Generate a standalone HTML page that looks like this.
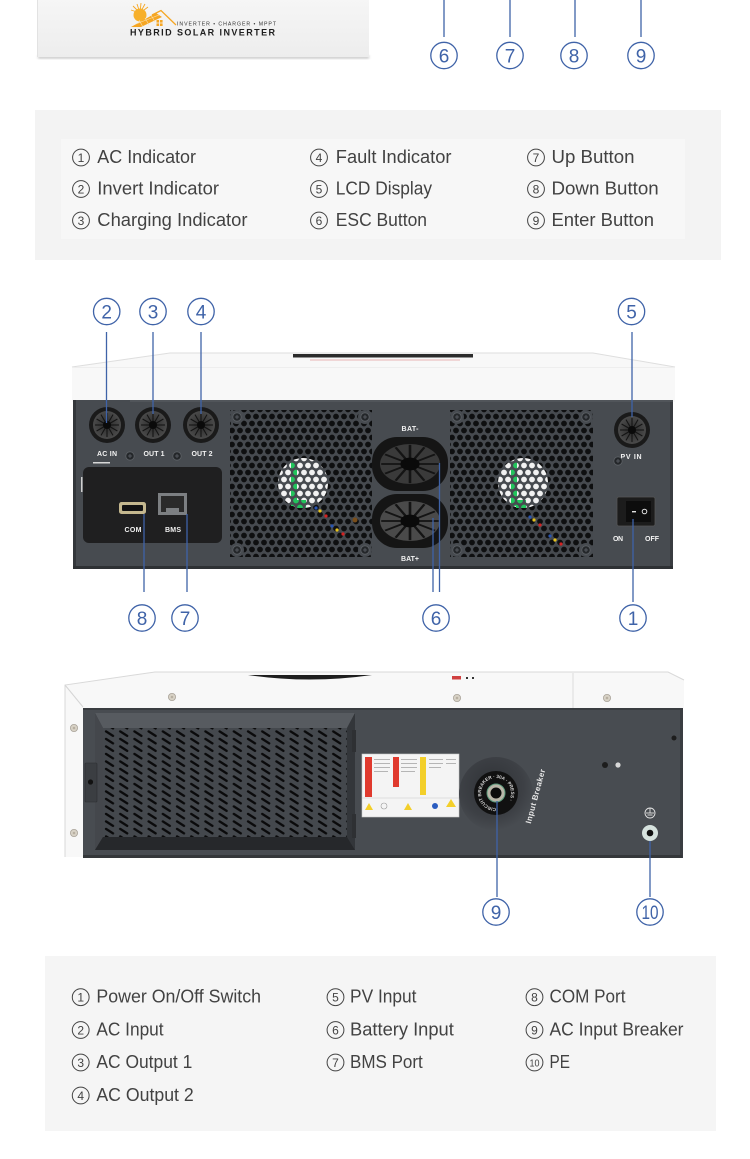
<!DOCTYPE html>
<html><head><meta charset="utf-8"><style>
html,body{margin:0;padding:0;background:#fff;}
body{width:750px;height:1159px;overflow:hidden;}
svg{display:block;}
.lg{font-family:"Liberation Sans","Noto Sans CJK SC",sans-serif;font-size:18px;fill:#424242;}
.lc{font-family:"Liberation Sans",sans-serif;font-size:12px;fill:#424242;}
.cn{font-family:"Liberation Sans",sans-serif;font-size:19px;fill:#3f63a8;}
.sm{font-family:"Liberation Sans",sans-serif;font-size:7px;font-weight:bold;fill:#f2f2f2;}
</style></head><body>
<svg width="750" height="1159" viewBox="0 0 750 1159" xmlns="http://www.w3.org/2000/svg">
<defs>
  <pattern id="hex" patternUnits="userSpaceOnUse" width="8" height="14">
    <rect width="8" height="14" fill="#464a4f"/>
    <circle cx="4" cy="3.5" r="2.9" fill="#0e0f10"/>
    <circle cx="0" cy="10.5" r="2.9" fill="#0e0f10"/>
    <circle cx="8" cy="10.5" r="2.9" fill="#0e0f10"/>
  </pattern>
  <pattern id="hexW" patternUnits="userSpaceOnUse" width="8" height="14">
    <rect width="8" height="14" fill="#464a4f"/>
    <circle cx="4" cy="3.5" r="2.9" fill="#f2f2f2"/>
    <circle cx="0" cy="10.5" r="2.9" fill="#f2f2f2"/>
    <circle cx="8" cy="10.5" r="2.9" fill="#f2f2f2"/>
  </pattern>
  <pattern id="hexG" patternUnits="userSpaceOnUse" width="8" height="14">
    <rect width="8" height="14" fill="#464a4f"/>
    <circle cx="4" cy="3.5" r="2.9" fill="#22c45c"/>
    <circle cx="0" cy="10.5" r="2.9" fill="#22c45c"/>
    <circle cx="8" cy="10.5" r="2.9" fill="#22c45c"/>
  </pattern>
  <pattern id="slots" patternUnits="userSpaceOnUse" x="104" y="730" width="14.2" height="7.5">
    <rect width="14.2" height="7.5" fill="#44484d"/>
    <line x1="2" y1="1.4" x2="9" y2="5.9" stroke="#0a0a0b" stroke-width="2.3" stroke-linecap="round"/>
  </pattern>
  <radialGradient id="dish" cx="0.45" cy="0.4" r="0.6">
    <stop offset="0" stop-color="#2f3236"/>
    <stop offset="0.7" stop-color="#3d4045"/>
    <stop offset="1" stop-color="#484c51"/>
  </radialGradient>
  <radialGradient id="conn" cx="0.5" cy="0.5" r="0.5">
    <stop offset="0" stop-color="#2a2a2a"/>
    <stop offset="1" stop-color="#4a4a4a"/>
  </radialGradient>
  <linearGradient id="card" x1="0" y1="0" x2="0" y2="1">
    <stop offset="0" stop-color="#f6f6f6"/>
    <stop offset="1" stop-color="#ededed"/>
  </linearGradient>
  <g id="spokes">
    <g stroke="#141414" stroke-width="1.1">
      <line x1="0" y1="0" x2="12" y2="0"/><line x1="0" y1="0" x2="10.4" y2="6"/><line x1="0" y1="0" x2="6" y2="10.4"/>
      <line x1="0" y1="0" x2="0" y2="12"/><line x1="0" y1="0" x2="-6" y2="10.4"/><line x1="0" y1="0" x2="-10.4" y2="6"/>
      <line x1="0" y1="0" x2="-12" y2="0"/><line x1="0" y1="0" x2="-10.4" y2="-6"/><line x1="0" y1="0" x2="-6" y2="-10.4"/>
      <line x1="0" y1="0" x2="0" y2="-12"/><line x1="0" y1="0" x2="6" y2="-10.4"/><line x1="0" y1="0" x2="10.4" y2="-6"/>
    </g>
    <circle r="4" fill="#0a0a0a"/>
  </g>
  <g id="connector">
    <circle r="18" fill="#1a1a1a"/>
    <circle r="14" fill="url(#conn)"/>
    <use href="#spokes"/>
  </g>
  <g id="screw">
    <circle r="4.2" fill="#24272a"/>
    <circle r="4.2" fill="none" stroke="#5c6065" stroke-width="0.8"/>
    <path d="M-2,0H2M0,-2V2" stroke="#60646a" stroke-width="0.8"/>
  </g>
  <g id="wscrew">
    <circle r="3.6" fill="#d8d2c6"/>
    <circle r="3.6" fill="none" stroke="#aaa49a" stroke-width="0.8"/>
    <circle r="1.3" fill="#b8b0a2"/>
  </g>
  <filter id="blur1"><feGaussianBlur stdDeviation="1.2"/></filter>
</defs>

<!-- ============ TOP CARD ============ -->
<rect x="38" y="55" width="331" height="4" fill="#cfcfcf" filter="url(#blur1)"/>
<rect x="37" y="-2" width="332" height="59" fill="url(#card)"/>
<line x1="37.5" y1="0" x2="37.5" y2="57" stroke="#e2e2e2"/>
<!-- logo -->
<g>
  <g stroke="#f5a623" stroke-width="0.9">
    <line x1="140" y1="13" x2="133" y2="6"/><line x1="140" y1="13" x2="137" y2="4"/>
    <line x1="140" y1="13" x2="141" y2="3"/><line x1="140" y1="13" x2="145" y2="4"/>
    <line x1="140" y1="13" x2="148" y2="7"/><line x1="140" y1="13" x2="131" y2="10"/>
  </g>
  <circle cx="140" cy="15" r="6.5" fill="#f7b02a"/>
  <polygon points="131,27 156,13 162,17 141,27" fill="#f5a623"/>
  <g stroke="#fbe2b0" stroke-width="0.6">
    <line x1="136" y1="24" x2="159" y2="15"/><line x1="139" y1="20" x2="143" y2="27"/>
    <line x1="145" y1="18" x2="149" y2="25"/><line x1="151" y1="15" x2="155" y2="22"/>
  </g>
  <polyline points="152,15 161,10.5 176,25" fill="none" stroke="#f5a623" stroke-width="1.3"/>
  <rect x="156.5" y="20" width="2.6" height="2.6" fill="#f5a623"/><rect x="160" y="20" width="2.6" height="2.6" fill="#f5a623"/>
  <rect x="156.5" y="23.4" width="2.6" height="2.6" fill="#f5a623"/><rect x="160" y="23.4" width="2.6" height="2.6" fill="#f5a623"/>
</g>
<text x="177" y="25.7" font-family="Liberation Sans,sans-serif" font-size="5.2" fill="#333" textLength="99" lengthAdjust="spacing">INVERTER • CHARGER • MPPT</text>
<text x="130" y="35.7" font-family="Liberation Sans,sans-serif" font-size="9" font-weight="bold" fill="#1e1e1e" textLength="145" lengthAdjust="spacing">HYBRID SOLAR INVERTER</text>

<!-- top callouts 6 7 8 9 -->
<g stroke="#3f63a8" stroke-width="1.3" fill="none">
  <line x1="444" y1="0" x2="444" y2="37"/><line x1="510" y1="0" x2="510" y2="37"/>
  <line x1="575" y1="0" x2="575" y2="37"/><line x1="641" y1="0" x2="641" y2="37"/>
  <circle cx="444" cy="55.5" r="13.2"/><circle cx="510" cy="55.5" r="13.2"/>
  <circle cx="574" cy="55.5" r="13.2"/><circle cx="641" cy="55.5" r="13.2"/>
</g>
<g class="cn" text-anchor="middle">
  <text x="444" y="62.3">6</text><text x="510" y="62.3">7</text><text x="574" y="62.3">8</text><text x="641" y="62.3">9</text>
</g>

<!-- ============ LEGEND 1 ============ -->
<rect x="35" y="110" width="686" height="150" fill="#f3f3f3"/>
<rect x="61" y="139" width="624" height="100" fill="#f7f7f7"/>
<g fill="none" stroke="#444" stroke-width="1">
  <circle cx="81" cy="157.5" r="8.4"/><circle cx="81" cy="189" r="8.4"/><circle cx="81" cy="220.5" r="8.4"/>
  <circle cx="319" cy="157.5" r="8.4"/><circle cx="319" cy="189" r="8.4"/><circle cx="319" cy="220.5" r="8.4"/>
  <circle cx="536" cy="157.5" r="8.4"/><circle cx="536" cy="189" r="8.4"/><circle cx="536" cy="220.5" r="8.4"/>
</g>
<g class="lc" text-anchor="middle">
  <text x="81" y="161.8">1</text><text x="81" y="193.3">2</text><text x="81" y="224.8">3</text>
  <text x="319" y="161.8">4</text><text x="319" y="193.3">5</text><text x="319" y="224.8">6</text>
  <text x="536" y="161.8">7</text><text x="536" y="193.3">8</text><text x="536" y="224.8">9</text>
</g>
<g class="lg">
  <text x="97.3" y="163" textLength="98.7" lengthAdjust="spacingAndGlyphs">AC Indicator</text>
  <text x="97.3" y="194.5" textLength="121.7" lengthAdjust="spacingAndGlyphs">Invert Indicator</text>
  <text x="97.3" y="226" textLength="150.2" lengthAdjust="spacingAndGlyphs">Charging Indicator</text>
  <text x="335.8" y="163" textLength="115.7" lengthAdjust="spacingAndGlyphs">Fault Indicator</text>
  <text x="335.8" y="194.5" textLength="96.2" lengthAdjust="spacingAndGlyphs">LCD Display</text>
  <text x="335.8" y="226" textLength="91.2" lengthAdjust="spacingAndGlyphs">ESC Button</text>
  <text x="551.5" y="163" textLength="83" lengthAdjust="spacingAndGlyphs">Up Button</text>
  <text x="551.5" y="194.5" textLength="107.2" lengthAdjust="spacingAndGlyphs">Down Button</text>
  <text x="551.5" y="226" textLength="102.5" lengthAdjust="spacingAndGlyphs">Enter Button</text>
</g>

<!-- ============ DEVICE 1 (rear panel) ============ -->
<polygon points="72,367 170,353 593,353 675,367 675,402 72,402" fill="#f8f8f8"/>
<polyline points="72,367 170,353 593,353 675,367" fill="none" stroke="#dedede" stroke-width="1"/>
<line x1="72" y1="367.5" x2="675" y2="367.5" stroke="#eeeeee"/>
<rect x="293" y="354" width="180" height="3.5" fill="#2c2c2c"/>
<rect x="310" y="359" width="150" height="2" fill="#f0d6d6"/>
<rect x="73" y="400" width="600" height="169" fill="#474b50"/>
<rect x="73" y="400" width="3" height="169" fill="#34373b"/>
<rect x="670" y="400" width="3" height="169" fill="#393c40"/>
<rect x="73" y="566" width="600" height="3" fill="#2e3134"/>
<line x1="130" y1="401" x2="673" y2="401" stroke="#5b5f64" stroke-width="1"/>

<use href="#connector" x="107" y="425"/>
<use href="#connector" x="153" y="425"/>
<use href="#connector" x="201" y="425"/>
<g class="sm" text-anchor="middle">
  <text x="107" y="456" textLength="20">AC IN</text>
  <text x="154" y="456" textLength="21">OUT 1</text>
  <text x="202" y="456" textLength="21">OUT 2</text>
</g>
<use href="#screw" x="130" y="456"/>
<use href="#screw" x="177" y="456"/>

<rect x="83" y="467" width="139" height="76" rx="6" fill="#1f1f20"/>
<rect x="93" y="462" width="17" height="1.5" fill="#d8d8d8"/>
<rect x="81" y="477" width="1.5" height="15" fill="#cfcfcf"/>
<rect x="119" y="502" width="27" height="12" rx="2.5" fill="#c4b78e"/>
<rect x="122" y="505" width="21" height="6" rx="1" fill="#121212"/>
<rect x="158" y="493" width="29" height="22" fill="#7c7f82"/>
<rect x="161" y="496" width="23" height="16" fill="#2a2a2a"/>
<rect x="166" y="508" width="13" height="4" fill="#7c7f82"/>
<g class="sm" text-anchor="middle">
  <text x="133" y="532" textLength="17">COM</text>
  <text x="173" y="532" textLength="16">BMS</text>
</g>

<rect x="230" y="410" width="142" height="147" fill="url(#hex)"/>
<circle cx="303" cy="483" r="25" fill="url(#hexW)"/>
<rect x="291" y="462" width="6" height="44" fill="url(#hexG)"/>
<rect x="296" y="500" width="10" height="8" fill="url(#hexG)"/>
<g>
  <circle cx="316" cy="508" r="1.6" fill="#2a55b0"/><circle cx="320" cy="511" r="1.6" fill="#e6c21c"/><circle cx="326" cy="516" r="1.6" fill="#d42222"/>
  <circle cx="332" cy="526" r="1.6" fill="#2a55b0"/><circle cx="337" cy="530" r="1.6" fill="#e6c21c"/><circle cx="343" cy="534" r="1.6" fill="#d42222"/>
  <circle cx="355" cy="520" r="2.5" fill="#7a4e1a"/>
</g>
<g fill="#474b50"><circle cx="237" cy="417" r="7"/><circle cx="365" cy="417" r="7"/><circle cx="237" cy="550" r="7"/><circle cx="365" cy="550" r="7"/></g>
<use href="#screw" x="237" y="417"/><use href="#screw" x="365" y="417"/><use href="#screw" x="237" y="550"/><use href="#screw" x="365" y="550"/>

<rect x="450" y="410" width="143" height="147" fill="url(#hex)"/>
<circle cx="523" cy="483" r="25" fill="url(#hexW)"/>
<rect x="511" y="462" width="6" height="44" fill="url(#hexG)"/>
<rect x="516" y="500" width="10" height="8" fill="url(#hexG)"/>
<g>
  <circle cx="530" cy="517" r="1.6" fill="#2a55b0"/><circle cx="534" cy="520" r="1.6" fill="#e6c21c"/><circle cx="540" cy="525" r="1.6" fill="#d42222"/>
  <circle cx="550" cy="536" r="1.6" fill="#2a55b0"/><circle cx="555" cy="540" r="1.6" fill="#e6c21c"/><circle cx="561" cy="544" r="1.6" fill="#d42222"/>
</g>
<g fill="#474b50"><circle cx="457" cy="417" r="7"/><circle cx="586" cy="417" r="7"/><circle cx="457" cy="550" r="7"/><circle cx="586" cy="550" r="7"/></g>
<use href="#screw" x="457" y="417"/><use href="#screw" x="586" y="417"/><use href="#screw" x="457" y="550"/><use href="#screw" x="586" y="550"/>

<rect x="372" y="437" width="76" height="54" rx="25" fill="#151515"/>
<ellipse cx="410" cy="464" rx="30" ry="20" fill="#3a3a3a"/>
<g transform="translate(410,464) scale(2.4,1.6)"><use href="#spokes"/></g>
<circle cx="410" cy="464" r="5" fill="#0a0a0a"/>
<rect x="372" y="494" width="76" height="54" rx="25" fill="#151515"/>
<ellipse cx="410" cy="521" rx="30" ry="20" fill="#4a4a4a"/>
<g transform="translate(410,521) scale(2.4,1.6)"><use href="#spokes"/></g>
<circle cx="410" cy="521" r="5" fill="#0a0a0a"/>
<g class="sm" text-anchor="middle">
  <text x="410" y="431" textLength="17">BAT-</text>
  <text x="410" y="561" textLength="18">BAT+</text>
</g>

<use href="#connector" x="632" y="430"/>
<text class="sm" x="631" y="459" text-anchor="middle" textLength="21">PV IN</text>
<use href="#screw" x="618" y="461"/>

<rect x="617" y="497" width="38" height="29" rx="2" fill="#1c1c1c" stroke="#555" stroke-width="0.8"/>
<rect x="626" y="501" width="25" height="21" fill="#0d0d0d"/>
<rect x="632" y="511" width="4" height="1.4" fill="#e0e0e0"/>
<circle cx="644.5" cy="511.5" r="2.3" fill="none" stroke="#e0e0e0" stroke-width="1"/>
<g class="sm" text-anchor="middle">
  <text x="618" y="541" textLength="10">ON</text>
  <text x="652" y="541" textLength="14">OFF</text>
</g>

<g stroke="#3f63a8" stroke-width="1.3" fill="none">
  <line x1="106.5" y1="332" x2="106.5" y2="423"/>
  <line x1="153" y1="332" x2="153" y2="414"/>
  <line x1="201" y1="332" x2="201" y2="414"/>
  <line x1="632" y1="332" x2="632" y2="417"/>
  <line x1="144" y1="514" x2="144" y2="592"/>
  <line x1="187" y1="514" x2="187" y2="592"/>
  <line x1="433" y1="518" x2="433" y2="592"/>
  <line x1="439.5" y1="463" x2="439.5" y2="592"/>
  <line x1="633" y1="519" x2="633" y2="602"/>
  <circle cx="106.7" cy="311.5" r="13.2"/><circle cx="153" cy="311.5" r="13.2"/><circle cx="201" cy="311.5" r="13.2"/>
  <circle cx="631.5" cy="311.5" r="13.2"/>
  <circle cx="142" cy="618" r="13.2"/><circle cx="185" cy="618" r="13.2"/>
  <circle cx="436" cy="618" r="13.2"/><circle cx="633" cy="618" r="13.2"/>
</g>
<g class="cn" text-anchor="middle">
  <text x="106.7" y="318.3">2</text><text x="153" y="318.3">3</text><text x="201" y="318.3">4</text><text x="631.5" y="318.3">5</text>
  <text x="142" y="624.8">8</text><text x="185" y="624.8">7</text><text x="436" y="624.8">6</text><text x="633" y="624.8">1</text>
</g>

<!-- ============ DEVICE 2 (side) ============ -->
<polygon points="65,685 155,672 668,672 684,680 684,708 83,708 83,857 65,857" fill="#f8f8f8"/>
<polyline points="65,857 65,685 155,672 668,672 684,680" fill="none" stroke="#d9d9d9" stroke-width="1"/>
<line x1="65" y1="685" x2="83" y2="707" stroke="#d5d5d5" stroke-width="1"/>
<line x1="573" y1="673" x2="573" y2="708" stroke="#dcdcdc"/>
<path d="M248,675 Q310,684 372,675 Z" fill="#1e1e1e"/>
<rect x="452" y="676" width="9" height="3.5" fill="#d04040"/>
<rect x="466" y="677" width="2" height="2" fill="#333"/><rect x="472" y="677" width="2" height="2" fill="#333"/>
<use href="#wscrew" x="172" y="697"/><use href="#wscrew" x="457" y="698"/><use href="#wscrew" x="607" y="698"/>
<use href="#wscrew" x="74" y="728"/><use href="#wscrew" x="74" y="833"/>

<rect x="83" y="708" width="599" height="150" fill="#484c51"/>
<rect x="83" y="708" width="599" height="2" fill="#3a3d41"/>
<rect x="680" y="708" width="3" height="150" fill="#3a3d41"/>
<rect x="83" y="855" width="599" height="3" fill="#34373a"/>

<!-- vent cover -->
<polygon points="95,713 355,713 355,850 95,850" fill="#34373b"/>
<polygon points="95,713 355,713 347,728 103,728" fill="#575b60"/>
<polygon points="95,713 103,728 103,837 95,850" fill="#44474c"/>
<polygon points="95,850 103,837 347,837 355,850" fill="#26282b"/>
<polygon points="355,713 347,728 347,837 355,850" fill="#33363a"/>
<rect x="103" y="728" width="244" height="109" fill="url(#slots)"/>
<rect x="85" y="763" width="12" height="39" rx="1" fill="#3b3e42" stroke="#2c2e31" stroke-width="0.6"/>
<circle cx="90.5" cy="782" r="2.6" fill="#111"/>
<rect x="352" y="730" width="4" height="22" fill="#2e3033"/>
<rect x="352" y="814" width="4" height="24" fill="#2e3033"/>

<!-- warning label -->
<rect x="362" y="754" width="97" height="63" fill="#f4f4f4" stroke="#c8c8c8" stroke-width="0.6"/>
<rect x="365" y="757" width="7" height="40" fill="#e03a2e"/>
<rect x="393" y="757" width="6" height="30" fill="#e03a2e"/>
<rect x="420" y="757" width="6" height="38" fill="#f3cf2a"/>
<g fill="#b5b5b5">
  <rect x="374" y="759" width="16" height="1"/><rect x="374" y="763" width="16" height="1"/><rect x="374" y="767" width="16" height="1"/><rect x="374" y="771" width="14" height="1"/>
  <rect x="401" y="759" width="16" height="1"/><rect x="401" y="763" width="16" height="1"/><rect x="401" y="767" width="16" height="1"/><rect x="401" y="771" width="14" height="1"/>
  <rect x="429" y="759" width="14" height="1"/><rect x="429" y="763" width="14" height="1"/><rect x="429" y="767" width="12" height="1"/>
  <rect x="446" y="759" width="10" height="1"/><rect x="446" y="763" width="10" height="1"/>
</g>
<line x1="362" y1="798" x2="459" y2="798" stroke="#c8c8c8" stroke-width="0.6"/>
<polygon points="369,803 373,810 365,810" fill="#f3cf2a"/>
<polygon points="408,803 412,810 404,810" fill="#f3cf2a"/>
<polygon points="451,799 456,807 446,807" fill="#f3cf2a"/>
<circle cx="384" cy="806" r="3" fill="none" stroke="#999" stroke-width="0.6"/>
<circle cx="435" cy="806" r="3" fill="#2a5cc0"/>

<!-- input breaker -->
<circle cx="496" cy="794" r="37" fill="url(#dish)"/>
<circle cx="496" cy="793" r="22" fill="#111"/>
<path id="ring" d="M496,808 a15,15 0 1,1 0.1,0" fill="none"/>
<text font-family="Liberation Sans,sans-serif" font-size="4.6" font-weight="bold" fill="#d8d8d8"><textPath href="#ring">CIRCUIT BREAKER · 30A · PRESS ·</textPath></text>
<circle cx="496" cy="793" r="9" fill="#b9b6a8" stroke="#5c9a7c" stroke-width="1"/>
<circle cx="496" cy="793" r="5.5" fill="#0c0c0c"/>
<text transform="translate(538,797) rotate(-75)" text-anchor="middle" font-family="Liberation Sans,sans-serif" font-size="8" font-weight="bold" fill="#e6e6e6" textLength="56">Input Breaker</text>

<circle cx="605" cy="765" r="3" fill="#1d1d1d"/>
<circle cx="618" cy="765" r="2.6" fill="#d8d8d8"/>
<circle cx="674" cy="738" r="2.5" fill="#1d1d1d"/>
<g stroke="#e4e4e4" stroke-width="0.9" fill="none">
  <circle cx="650" cy="813" r="5"/>
  <line x1="650" y1="808" x2="650" y2="813"/><line x1="646" y1="813" x2="654" y2="813"/><line x1="647.5" y1="815" x2="652.5" y2="815"/>
</g>
<circle cx="650" cy="833" r="8" fill="#d6e2de"/>
<circle cx="650" cy="833" r="3.3" fill="#111"/>

<g stroke="#3f63a8" stroke-width="1.3" fill="none">
  <line x1="497" y1="801" x2="497" y2="897"/>
  <line x1="650" y1="841" x2="650" y2="897"/>
  <circle cx="496" cy="912" r="13.2"/>
  <circle cx="650" cy="912" r="13.2"/>
</g>
<text class="cn" x="496" y="918.8" text-anchor="middle">9</text>
<text class="cn" x="650" y="918.8" text-anchor="middle" textLength="17" lengthAdjust="spacingAndGlyphs">10</text>

<!-- ============ LEGEND 2 ============ -->
<rect x="45" y="956" width="671" height="175" fill="#f5f5f5"/>
<g fill="none" stroke="#444" stroke-width="1">
  <circle cx="80.7" cy="997.2" r="8.4"/><circle cx="80.7" cy="1030" r="8.4"/><circle cx="80.7" cy="1062.5" r="8.4"/><circle cx="80.7" cy="1095.5" r="8.4"/>
  <circle cx="335.5" cy="997.2" r="8.4"/><circle cx="335.5" cy="1030" r="8.4"/><circle cx="335.5" cy="1062.5" r="8.4"/>
  <circle cx="534.5" cy="997.2" r="8.4"/><circle cx="534.5" cy="1030" r="8.4"/><circle cx="534.5" cy="1062.5" r="8.4"/>
</g>
<g class="lc" text-anchor="middle">
  <text x="80.7" y="1001.5">1</text><text x="80.7" y="1034.3">2</text><text x="80.7" y="1066.8">3</text><text x="80.7" y="1099.8">4</text>
  <text x="335.5" y="1001.5">5</text><text x="335.5" y="1034.3">6</text><text x="335.5" y="1066.8">7</text>
  <text x="534.5" y="1001.5">8</text><text x="534.5" y="1034.3">9</text>
  <text x="534.5" y="1066.3" font-size="10" textLength="10" lengthAdjust="spacingAndGlyphs">10</text>
</g>
<g class="lg">
  <text x="96.4" y="1002.7" textLength="164.6" lengthAdjust="spacingAndGlyphs">Power On/Off Switch</text>
  <text x="96.4" y="1035.5" textLength="67.2" lengthAdjust="spacingAndGlyphs">AC Input</text>
  <text x="96.4" y="1068" textLength="95.9" lengthAdjust="spacingAndGlyphs">AC Output 1</text>
  <text x="96.4" y="1101" textLength="97.3" lengthAdjust="spacingAndGlyphs">AC Output 2</text>
  <text x="350" y="1002.7" textLength="66.5" lengthAdjust="spacingAndGlyphs">PV Input</text>
  <text x="350" y="1035.5" textLength="103.8" lengthAdjust="spacingAndGlyphs">Battery Input</text>
  <text x="350" y="1068" textLength="72.8" lengthAdjust="spacingAndGlyphs">BMS Port</text>
  <text x="549.5" y="1002.7" textLength="76" lengthAdjust="spacingAndGlyphs">COM Port</text>
  <text x="549.5" y="1035.5" textLength="134" lengthAdjust="spacingAndGlyphs">AC Input Breaker</text>
  <text x="549.5" y="1068" textLength="20.5" lengthAdjust="spacingAndGlyphs">PE</text>
</g>
</svg>
</body></html>
